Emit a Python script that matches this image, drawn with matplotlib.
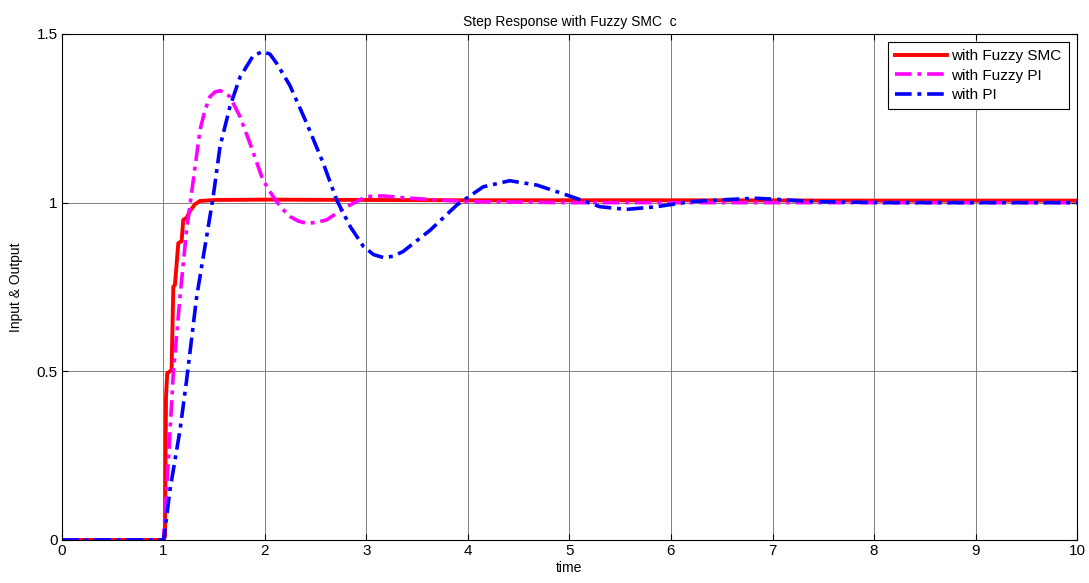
import numpy as np
import matplotlib
matplotlib.use("Agg")
from matplotlib import pyplot as plt

plt.rcParams['font.family'] = ['Liberation Sans', 'DejaVu Sans']

# step responses: time [s] and output for each controller
t_smc = [0, 1.0, 1.015, 1.025, 1.037, 1.08, 1.097, 1.113, 1.146, 1.179, 1.195, 1.228,
         1.261, 1.31, 1.36, 1.52, 2.0, 3.0, 4.0, 6.0, 8.0, 10.0]
y_smc = [0, 0, 0.01, 0.425, 0.494, 0.504, 0.751, 0.756, 0.88, 0.886, 0.949, 0.955,
         0.975, 0.995, 1.005, 1.008, 1.009, 1.008, 1.007, 1.007, 1.006, 1.006]

t_fpi = [0, 1.0, 1.047, 1.097, 1.163, 1.228, 1.294, 1.36, 1.41, 1.458, 1.507, 1.557, 1.605,
         1.655, 1.754, 1.852, 1.98, 2.08, 2.16, 2.246, 2.33, 2.41, 2.5, 2.608, 2.805, 3.0,
         3.16, 3.43, 3.99, 5.0, 7.0, 10.0]
y_fpi = [0, 0, 0.227, 0.494, 0.721, 0.919, 1.067, 1.216, 1.275, 1.314, 1.328, 1.332, 1.326,
         1.314, 1.255, 1.176, 1.067, 1.018, 0.985, 0.959, 0.945, 0.939, 0.941, 0.949, 0.988,
         1.018, 1.02, 1.013, 1.003, 1.0, 1.0, 1.0]

t_pi = [0, 1.0, 1.015, 1.064, 1.163, 1.228, 1.327, 1.425, 1.49, 1.557, 1.655, 1.754,
        1.885, 1.98, 2.05, 2.115, 2.246, 2.41, 2.574, 2.706, 2.84, 2.97, 3.07, 3.17, 3.26,
        3.36, 3.63, 3.89, 4.15, 4.41, 4.68, 4.97, 5.3, 5.56, 5.86, 6.19, 6.61, 6.84, 7.43,
        8.09, 9.0, 10.0]
y_pi = [0, 0, 0.03, 0.148, 0.326, 0.474, 0.721, 0.899, 1.018, 1.166, 1.285, 1.372,
        1.436, 1.448, 1.44, 1.413, 1.347, 1.236, 1.117, 1.008, 0.929, 0.87, 0.846, 0.837,
        0.841, 0.855, 0.919, 0.993, 1.047, 1.065, 1.052, 1.023, 0.988, 0.98, 0.988, 1.003,
        1.01, 1.013, 1.003, 1.0, 1.0, 1.0]

xticks = np.arange(0, 11, 1)
yticks = [0, 0.5, 1, 1.5]

fig = plt.figure(figsize=(10.89, 5.83), dpi=100)
ax = fig.add_axes([0.0569, 0.0738, 0.9321, 0.8679])

dashdot = (0, (4.6, 1.6, 1.1, 1.6))
ax.plot(t_smc, y_smc, color='red', lw=2.8, label='with Fuzzy SMC')
ax.plot(t_fpi, y_fpi, color='magenta', lw=2.6, ls=dashdot, label='with Fuzzy PI')
ax.plot(t_pi, y_pi, color='blue', lw=2.6, ls=dashdot, label='with PI')

ax.set_xlim(0, 10)
ax.set_ylim(0, 1.5)
ax.set_xticks(xticks)
ax.set_yticks(yticks)
ax.set_yticklabels(['0', '0.5', '1', '1.5'])
ax.grid(True, color='#808080', lw=0.7)
ax.set_axisbelow(True)
ax.tick_params(direction='in', top=True, right=True, length=4, labelsize=11, pad=3)
for s in ax.spines.values():
    s.set_linewidth(0.8)

ax.set_title('Step Response with Fuzzy SMC  c', fontsize=10, pad=6)
ax.set_xlabel('time', fontsize=10, labelpad=2)
ax.set_ylabel('Input & Output', fontsize=10, labelpad=10)

leg = ax.legend(loc='upper right', fontsize=11, fancybox=False, framealpha=1,
                edgecolor='black', borderaxespad=0.55, handlelength=3.4,
                labelspacing=0.35, borderpad=0.45, handletextpad=0.3)
leg.get_frame().set_linewidth(0.8)

fig.savefig('out.png', dpi=100)
